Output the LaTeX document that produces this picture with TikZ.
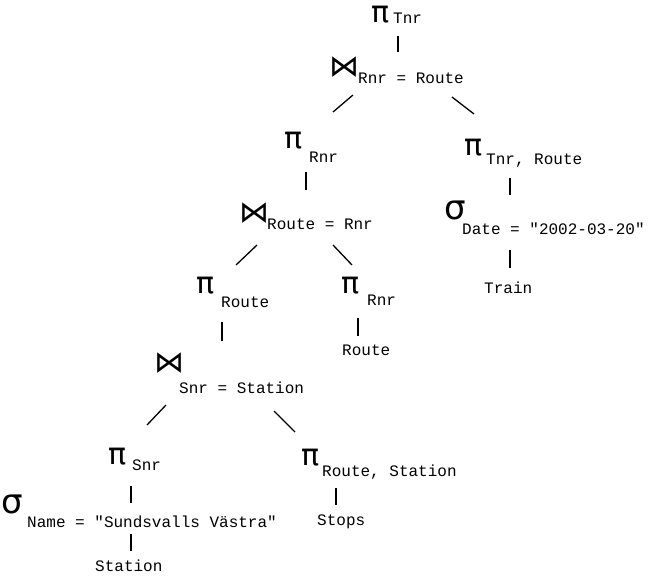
\documentclass[tikz,border=0pt]{standalone}
\usepackage{fontspec}
\setmonofont{Liberation Mono}
\newfontfamily\symf{DejaVu Sans}
\begin{document}
\begin{tikzpicture}[x=1pt,y=-1pt,
  sym/.style={anchor=center,inner sep=0pt,font=\symf\fontsize{30}{30}\selectfont},
  sub/.style={anchor=west,inner sep=0pt,font=\ttfamily\fontsize{16}{16}\selectfont},
  edge/.style={line width=1.3pt}]
\useasboundingbox (0,0) rectangle (659,576);
\node[sym] (p1) at (381,15) {π};
\node[sub] (t1) at (393,18) {Tnr};
\node[sym] (j1) at (344,67) {⋈};
\node[sub] (t2) at (358,78) {Rnr = Route};
\node[sym] (p2) at (294,141) {π};
\node[sub] (t3) at (309,157) {Rnr};
\node[sym] (p3) at (474,148) {π};
\node[sub] (t4) at (486,161) {Tnr, Route};
\node[sym] (j2) at (254,213) {⋈};
\node[sub] (t5) at (267,224) {Route = Rnr};
\node[sym,font=\symf\fontsize{34}{34}\selectfont] (s1) at (455,210) {σ};
\node[sub] (t6) at (462,229) {Date = "2002-03-20"};
\node[sym] (p4) at (206,286) {π};
\node[sub] (t7) at (221,302) {Route};
\node[sym] (p5) at (351,286) {π};
\node[sub] (t8) at (367,300) {Rnr};
\node[sub] (tr) at (484,288) {Train};
\node[sub] (rt) at (342,350) {Route};
\node[sym] (j3) at (169,363) {⋈};
\node[sub] (t9) at (179,388) {Snr = Station};
\node[sym] (p6) at (118,457) {π};
\node[sub] (t10) at (132,465) {Snr};
\node[sym] (p7) at (311,458) {π};
\node[sub] (t11) at (322,472) {Route, Station};
\node[sym,font=\symf\fontsize{34}{34}\selectfont] (s2) at (12,504) {σ};
\node[sub] (t12) at (27,522) {Name = "Sundsvalls Västra"};
\node[sub] (st) at (317,522) {Stops};
\node[sub] (sta) at (95,566) {Station};
\foreach \a/\b/\c/\d in {398/36/398/52, 353/95/333/112, 452/97/474/114,
  306/172/306/190, 510/178/510/195, 257/245/236/265, 333/245/352/265,
  510/250/510/268, 222/322/222/341, 358/318/358/336, 166/405/147/425,
  274/411/295/432, 131/486/131/503, 336/488/336/505, 131/534/131/551}
  { \coordinate (u) at (\a,\b); \coordinate (v) at (\c,\d); \draw[edge] (u) -- (v); }
\end{tikzpicture}
\end{document}
